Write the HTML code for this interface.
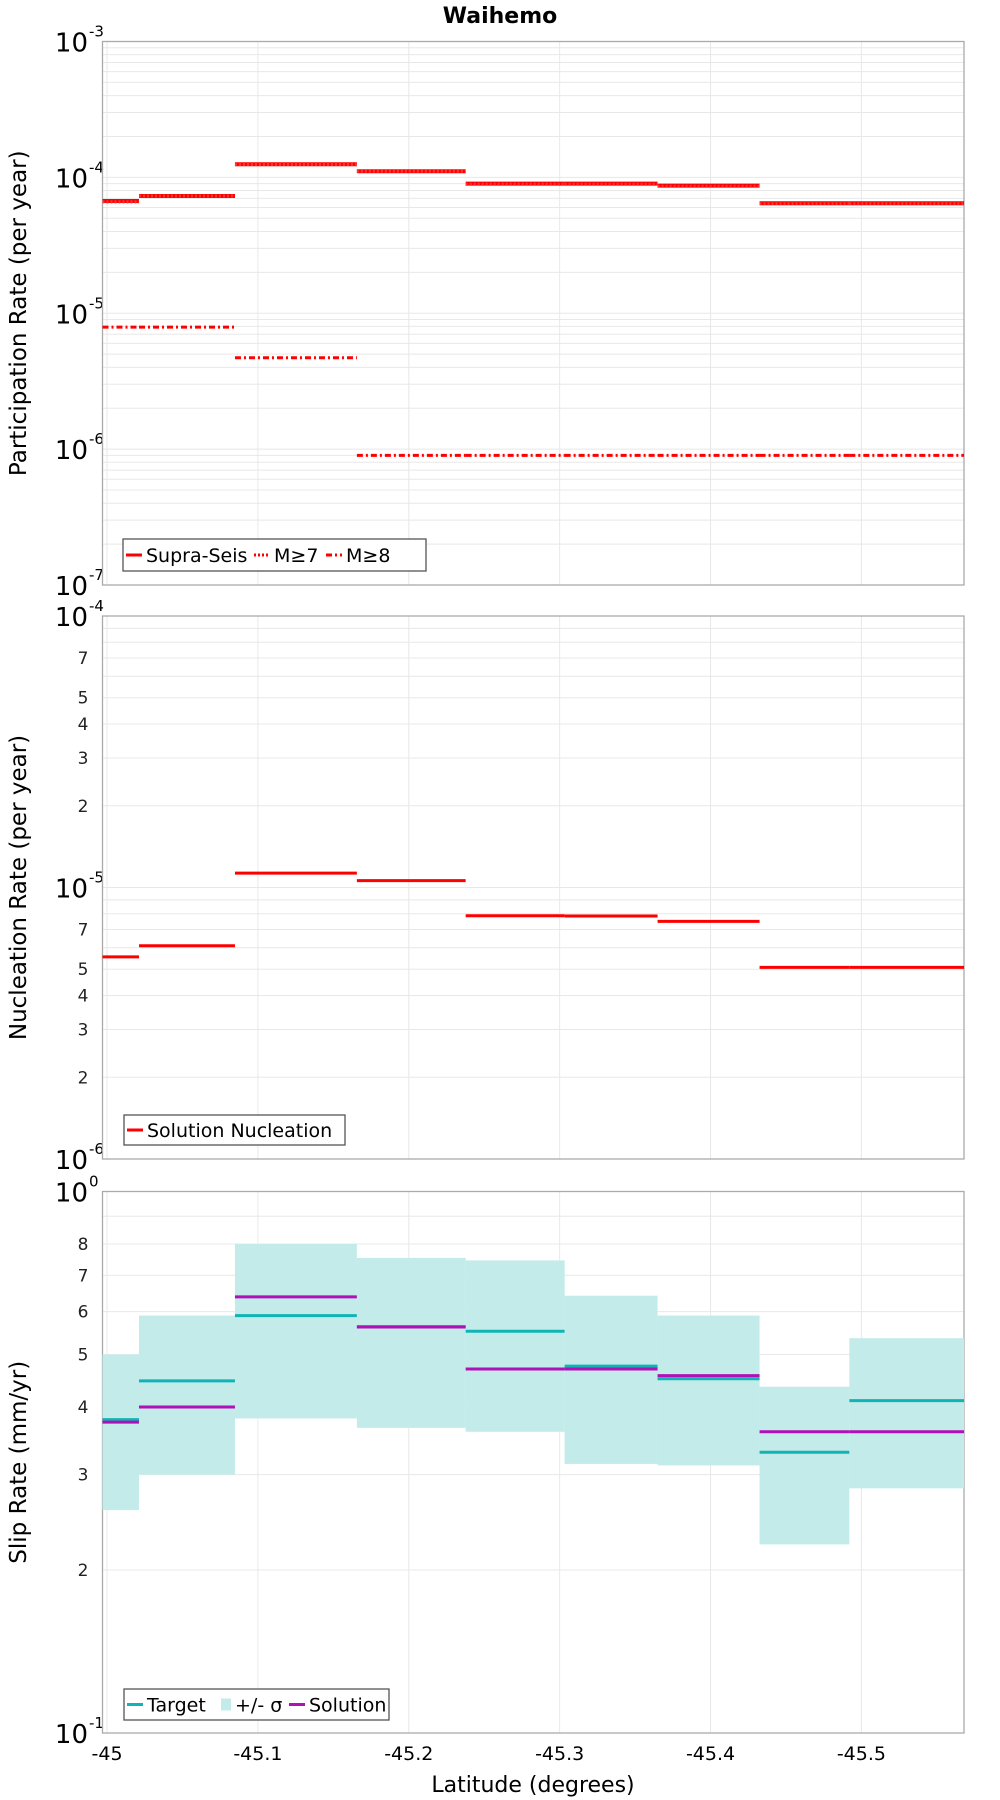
<!DOCTYPE html>
<html><head><meta charset="utf-8"><style>
html,body{margin:0;padding:0;background:#fff;}
svg{display:block;font-family:"DejaVu Sans","Liberation Sans",sans-serif;}
</style></head><body>
<svg id="chart" width="1000" height="1800" viewBox="0 0 1000 1800" xmlns="http://www.w3.org/2000/svg">
<text x="500" y="23" text-anchor="middle" font-size="22" font-weight="bold">Waihemo</text>
<g id="g"></g>
</svg>
<script>
// bin edges (latitude, degrees)
const binEdges = [-44.997, -45.0212, -45.0848, -45.1656, -45.2377, -45.3033, -45.3649, -45.4325, -45.492, -45.568];
const xTicks = [-45, -45.1, -45.2, -45.3, -45.4, -45.5];
const xTickLabels = ["-45", "-45.1", "-45.2", "-45.3", "-45.4", "-45.5"];
// participation rates
const supraSeis = [6.7e-5, 7.3e-5, 1.25e-4, 1.11e-4, 9.0e-5, 9.0e-5, 8.7e-5, 6.45e-5, 6.45e-5];
const m7 = [6.6e-5, 7.3e-5, 1.24e-4, 1.11e-4, 8.9e-5, 8.9e-5, 8.6e-5, 6.4e-5, 6.4e-5];
const m8 = [7.9e-6, 7.9e-6, 4.7e-6, 9.0e-7, 9.0e-7, 9.0e-7, 9.0e-7, 9.0e-7, 9.0e-7];
// nucleation
const nucleation = [5.55e-6, 6.1e-6, 1.13e-5, 1.06e-5, 7.87e-6, 7.85e-6, 7.5e-6, 5.08e-6, 5.08e-6];
// slip rates (mm/yr)
const target = [3.79, 4.47, 5.9, 5.63, 5.52, 4.76, 4.51, 3.3, 4.11];
const solution = [3.75, 4.0, 6.39, 5.62, 4.7, 4.7, 4.57, 3.6, 3.6];
const sigmaUpper = [5.0, 5.9, 8.0, 7.54, 7.46, 6.42, 5.9, 4.36, 5.36];
const sigmaLower = [2.58, 3.0, 3.81, 3.66, 3.6, 3.14, 3.12, 2.23, 2.83];

const NS = "http://www.w3.org/2000/svg";
const G = document.getElementById('g');
const L = 102.5, R = 964;
function x(lat){ return L + (binEdges[0] - lat) / (binEdges[0] - binEdges[binEdges.length-1]) * (R - L); }
function mk(tag, attrs, parent){ const e = document.createElementNS(NS, tag); for (const k in attrs) e.setAttribute(k, attrs[k]); (parent||G).appendChild(e); return e; }
function logY(top, bot, lo, hi){ return v => bot - (Math.log10(v) - Math.log10(lo)) / (Math.log10(hi) - Math.log10(lo)) * (bot - top); }

function panel(top, bot, lo, hi, minorLabels, title, name){
  const y = logY(top, bot, lo, hi);
  const grp = mk('g', {});
  
  
  for (let d = Math.log10(lo); d < Math.log10(hi); d++){
    for (let m = 1; m < 10; m++){
      const v = m * Math.pow(10, d);
      const yy = y(v);
      const gl = mk('line', {x1:L, x2:R, y1:yy, y2:yy, stroke:'#e8e8e8', 'stroke-width':1}, grp);
      
      
      if (m > 1 && minorLabels.indexOf(m) >= 0){
        const t = mk('text', {x:L-14, y:yy+6, 'text-anchor':'end', 'font-size':17, fill:'#222'}, grp);
        
        
        t.textContent = m;
      }
    }
  }
  xTicks.forEach(t => {
    const xx = x(t);
    const gl = mk('line', {x1:xx, x2:xx, y1:top, y2:bot, stroke:'#e8e8e8', 'stroke-width':1}, grp);
    
    
  });
  for (let d = Math.log10(lo); d <= Math.log10(hi) + 0.001; d++){
    const yy = y(Math.pow(10, d));
    const t = mk('text', {x:88, y:yy+10, 'text-anchor':'end', 'font-size':26, fill:'#000'}, grp);
    
    
    t.textContent = '10';
    const e = mk('text', {x:89, y:yy-5, 'text-anchor':'start', 'font-size':15, fill:'#000'}, grp);
    
    
    e.textContent = String(Math.round(d));
  }
  const fr = mk('rect', {x:L, y:top, width:R-L, height:bot-top, fill:'none', stroke:'#aaa', 'stroke-width':1.3}, grp);
  
  
  const cy = (top+bot)/2;
  const tt = mk('text', {x:0, y:0, transform:`translate(26,${cy}) rotate(-90)`, 'text-anchor':'middle', 'font-size':23, fill:'#000'}, grp);
  
  
  tt.textContent = title;
  return y;
}

function steps(vals, y, color, dash, w, name){
  vals.forEach((v, i) => {
    const ln = mk('line', {x1:x(binEdges[i]), x2:x(binEdges[i+1]), y1:y(v), y2:y(v), stroke:color, 'stroke-width':w});
    if (dash) ln.setAttribute('stroke-dasharray', dash);
    
    
  });
}

function legend(x0, y0, w, h, items){
  const r = mk('rect', {x:x0, y:y0, width:w, height:h, fill:'#fff', stroke:'#555', 'stroke-width':1.3});
  
  
  let cx = x0 + 3;
  const cyy = y0 + h/2;
  items.forEach(it => {
    if (it.fill){
      const s = mk('rect', {x:cx+4, y:cyy-6, width:10, height:12, fill:it.color});
      
      
      cx += 18;
    } else {
      const s = mk('line', {x1:cx, x2:cx+16, y1:cyy, y2:cyy, stroke:it.color, 'stroke-width':3});
      if (it.dash) s.setAttribute('stroke-dasharray', it.dash);
      
      
      cx += 20;
    }
    const t = mk('text', {x:cx, y:cyy+7, 'font-size':19, fill:'#000'});
    
    
    t.textContent = it.label;
    cx += it.tw;
  });
}

const y1 = panel(41.5, 585, 1e-7, 1e-3, [], 'Participation Rate (per year)', 'participation-panel');
steps(supraSeis, y1, '#ff0000', null, 4, 'supra-seis-step');
steps(m7, y1, '#ff3333', '2,2', 3, 'm7-step');
steps(m8, y1, '#ff0000', '6,3,2,3', 3, 'm8-step');
legend(123, 539, 303, 32, [
  {label:'Supra-Seis', color:'#ff0000', tw:108},
  {label:'M≥7', color:'#ff0000', dash:'2,2', tw:52},
  {label:'M≥8', color:'#ff0000', dash:'6,3,2,3', tw:50}
]);

const y2 = panel(616, 1159, 1e-6, 1e-4, [2,3,4,5,7], 'Nucleation Rate (per year)', 'nucleation-panel');
steps(nucleation, y2, '#ff0000', null, 3, 'nucleation-step');
legend(124, 1115, 221, 30, [{label:'Solution Nucleation', color:'#ff0000', tw:190}]);

const y3raw = panel(1191.5, 1733, 0.1, 1, [2,3,4,5,6,7,8], 'Slip Rate (mm/yr)', 'slip-panel');
const y3 = v => y3raw(v / 10);
sigmaUpper.forEach((u, i) => {
  const r = mk('rect', {x:x(binEdges[i]), y:y3(u), width:x(binEdges[i+1])-x(binEdges[i]), height:y3(sigmaLower[i])-y3(u), fill:'#c2ebea'});
  
  
});
steps(target, y3, '#10b4b4', null, 3, 'target-step');
steps(solution, y3, '#b010b8', null, 3, 'solution-step');
legend(124, 1689, 265, 31, [
  {label:'Target', color:'#10b4b4', tw:70},
  {label:'+/- σ', color:'#c2ebea', fill:true, tw:54},
  {label:'Solution', color:'#b010b8', tw:80}
]);

xTicks.forEach((t, i) => {
  const tl = mk('text', {x:x(t), y:1760, 'text-anchor':'middle', 'font-size':19, fill:'#000'});
  
  
  tl.textContent = xTickLabels[i];
});
const xt = mk('text', {x:533, y:1792, 'text-anchor':'middle', 'font-size':22, fill:'#000'});


xt.textContent = 'Latitude (degrees)';
</script>
</body></html>
